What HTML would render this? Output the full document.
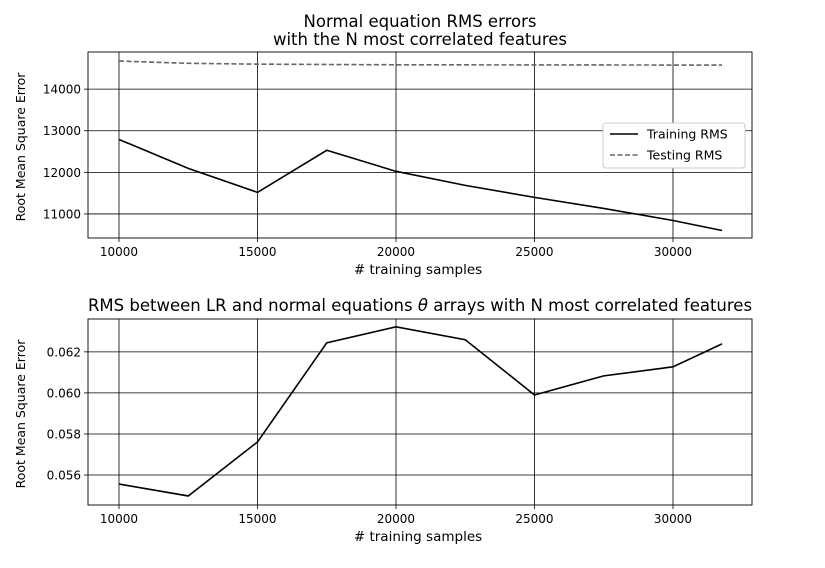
<!DOCTYPE html>
<html><head><meta charset="utf-8"><style>
body{margin:0;background:#fff;}
svg{font-family:"DejaVu Sans","Liberation Sans",sans-serif;}
</style></head><body>
<svg id="chart" width="825" height="563" xmlns="http://www.w3.org/2000/svg"></svg>
<script>
const xValues=[10000,12500,15000,17500,20000,22500,25000,27500,30000,31770];
const trainRms=[12790,12096,11518,12530,12024,11687,11398,11133,10843,10602];
const testRms=[14675,14620,14600,14592,14585,14583,14582,14580,14579,14578];
const thetaRms=[0.05556,0.05498,0.05761,0.06244,0.06322,0.06259,0.05990,0.06083,0.06127,0.06239];
const xTicks=[10000,15000,20000,25000,30000];
const topYTicks=[11000,12000,13000,14000];
const botYTicks=[0.056,0.058,0.060,0.062];
const botYLabels=["0.056","0.058","0.060","0.062"];

const NS="http://www.w3.org/2000/svg";
const svg=document.getElementById('chart');
function el(tag,attrs,parent,text){const e=document.createElementNS(NS,tag);for(const k in attrs)e.setAttribute(k,attrs[k]);if(text!==undefined)e.textContent=text;(parent||svg).appendChild(e);return e;}
const X0=88,X1=752,xMin=8881,xMax=32852;
const sx=v=>X0+(v-xMin)/(xMax-xMin)*(X1-X0);

function panel(name,top,bot,yMin,yMax,yTicks,yLabels,series,titleLines){
  const g=el('g',{},svg);
  
  
  const sy=v=>bot-(v-yMin)/(yMax-yMin)*(bot-top);
  xTicks.forEach(t=>{const l=el('line',{x1:sx(t),x2:sx(t),y1:top,y2:bot,stroke:'#000','stroke-width':0.8},g);
    
    el('line',{x1:sx(t),x2:sx(t),y1:bot,y2:bot+4,stroke:'#000','stroke-width':0.8},g);
    const tx=el('text',{x:sx(t),y:bot+18,'text-anchor':'middle','font-size':12},g,String(t));
    });
  yTicks.forEach((t,i)=>{const l=el('line',{x1:X0,x2:X1,y1:sy(t),y2:sy(t),stroke:'#000','stroke-width':0.8},g);
    
    el('line',{x1:X0-4,x2:X0,y1:sy(t),y2:sy(t),stroke:'#000','stroke-width':0.8},g);
    const tx=el('text',{x:X0-7,y:sy(t)+4.5,'text-anchor':'end','font-size':12},g,yLabels[i]);
    });
  series.forEach(s=>{const p=el('polyline',{points:xValues.map((x,i)=>sx(x)+','+sy(s.vals[i])).join(' '),fill:'none',stroke:s.color,'stroke-width':1.6,'stroke-dasharray':s.dash||'none'},g);
    });
  const r=el('rect',{x:X0,y:top,width:X1-X0,height:bot-top,fill:'none',stroke:'#000','stroke-width':0.9},g);
  
  const xl=el('text',{x:(X0+X1)/2-2,y:bot+36,'text-anchor':'middle','font-size':13.5},g,'# training samples');
  
  const cy=(top+bot)/2+2;
  const yl=el('text',{x:26,y:cy,'text-anchor':'middle','font-size':12.5,transform:`rotate(-90 26 ${cy})`},g,'Root Mean Square Error');
  yl.setAttribute('x',25);yl.setAttribute('transform',`rotate(-90 25 ${cy})`);
  
  titleLines.forEach(tl=>{const t=el('text',{x:(X0+X1)/2,y:tl.y,'text-anchor':'middle','font-size':16.5},g);
    t.innerHTML=tl.html;});
  return g;
}
panel('top-panel',52,238,10422,14892,topYTicks,topYTicks.map(String),
  [{vals:trainRms,color:'#000',name:'training-rms-line'},{vals:testRms,color:'#666',dash:'5,2.5',name:'testing-rms-line'}],
  [{y:27,html:'Normal equation RMS errors'},{y:45,html:'with the N most correlated features'}]);
panel('bottom-panel',319,505,0.05454,0.0636,botYTicks,botYLabels,
  [{vals:thetaRms,color:'#000',name:'theta-rms-line'}],
  [{y:311,html:'RMS between LR and normal equations <tspan font-style="italic">θ</tspan> arrays with N most correlated features'}]);
const lg=el('g',{},svg);

el('rect',{x:603,y:123,width:142,height:45,rx:3,fill:'#fff',stroke:'#ccc','stroke-width':1},lg);
el('line',{x1:610,x2:638,y1:134,y2:134,stroke:'#000','stroke-width':1.6},lg);
const l1=el('text',{x:647,y:138.5,'font-size':12.5},lg,'Training RMS');

el('line',{x1:610,x2:638,y1:155,y2:155,stroke:'#666','stroke-width':1.6,'stroke-dasharray':'5,2.5'},lg);
const l2=el('text',{x:647,y:159.5,'font-size':12.5},lg,'Testing RMS');

</script>
</body></html>
